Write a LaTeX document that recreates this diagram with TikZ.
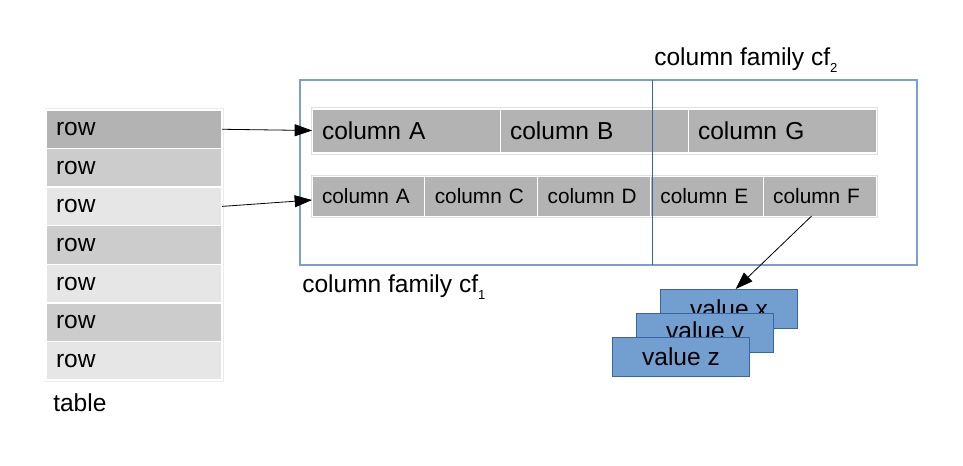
\documentclass[tikz,border=0pt]{standalone}
\usepackage{fontspec}
\setmainfont{Liberation Sans}
\usetikzlibrary{positioning,arrows.meta}

\definecolor{gDark}{HTML}{B3B3B3}
\definecolor{gMid}{HTML}{CCCCCC}
\definecolor{gLight}{HTML}{E6E6E6}
\definecolor{valFill}{HTML}{729FCF}
\definecolor{valLine}{HTML}{3465A4}
\definecolor{cfLine}{HTML}{7A9FD4}

\newcommand{\cfsub}[1]{\raisebox{-5.8pt}{\fontsize{9.8}{10}\selectfont #1}}

\tikzset{
  big/.style={font=\fontsize{18.4}{22}\selectfont},
  small/.style={font=\fontsize{15.6}{19}\selectfont},
  rowcell/.style={big, draw=white, line width=1pt, anchor=north west,
    minimum width=132pt, minimum height=28.9pt, text width=117pt, align=left,
    inner xsep=7.5pt, inner ysep=0pt, outer sep=0pt},
  colcell/.style={big, draw=white, line width=0.75pt, fill=gDark,
    minimum width=141pt, minimum height=32.25pt, text width=126pt, align=left,
    inner xsep=7.5pt, inner ysep=0pt, outer sep=0pt},
  subcell/.style={small, draw=white, line width=0.75pt, fill=gDark,
    minimum width=84.6pt, minimum height=30pt, text width=69.6pt, align=left,
    inner xsep=7.5pt, inner ysep=0pt, outer sep=0pt},
  valbox/.style={big, draw=valLine, fill=valFill, line width=0.75pt, anchor=north west,
    minimum width=102.75pt, minimum height=29.25pt, inner sep=0pt},
  arr/.style={-{Triangle[length=13pt,width=9pt]}, line width=0.6pt},
  lbl/.style={big, anchor=base west, inner sep=0pt}
}

\begin{document}
\begin{tikzpicture}[x=0.75pt, y=-0.75pt]
  \useasboundingbox (0,0) rectangle (963,465);

  % table of rows
  \draw[black!8] (45,108.5) rectangle (223,381);
  \foreach \i/\c in {1/gDark,2/gMid,3/gLight,4/gMid,5/gLight,6/gMid,7/gLight}
    \node[rowcell, fill=\c] (r\i) at (46,{110+(\i-1)*38.57}) {row};
  \node[lbl] (tblLbl) at (53,411) {table};

  % column family box
  \draw[cfLine, line width=1pt] (300,80) rectangle (917,265);

  % first row of columns
  \draw[black!12] (311,107.5) rectangle (877,154);
  \node[colcell, anchor=north west] (cA) at (312,109) {column A};
  \node[colcell, right=0pt of cA] (cB) {column B};
  \node[colcell, right=0pt of cB] (cG) {column G};

  % second row of columns
  \draw[black!12] (311,175) rectangle (877,217.5);
  \node[subcell, anchor=north west] (sA) at (312,176) {column A};
  \node[subcell, right=0pt of sA] (sC) {column C};
  \node[subcell, right=0pt of sC] (sD) {column D};
  \node[subcell, right=0pt of sD] (sE) {column E};
  \node[subcell, right=0pt of sE] (sF) {column F};

  % split between the families
  \draw[valLine, line width=0.75pt] (652,80) -- (652,265);
  \node[lbl] (cfOneLbl) at (302,292) {column family cf\cfsub{1}};
  \node[lbl] (cfTwoLbl) at (654,65) {column family cf\cfsub{2}};

  % values
  \node[valbox] (vx) at (660,289) {value x};
  \node[valbox] (vy) at (636,313) {value y};
  \node[valbox] (vz) at (612,337) {value z};

  \draw[arr] (r1.east) -- (cA.west);
  \draw[arr] (r3.east) -- ([yshift=-3pt]sA.west);
  \draw[arr] ([xshift=-6pt]sF.south) -- ([xshift=5pt]vx.north);
\end{tikzpicture}
\end{document}
